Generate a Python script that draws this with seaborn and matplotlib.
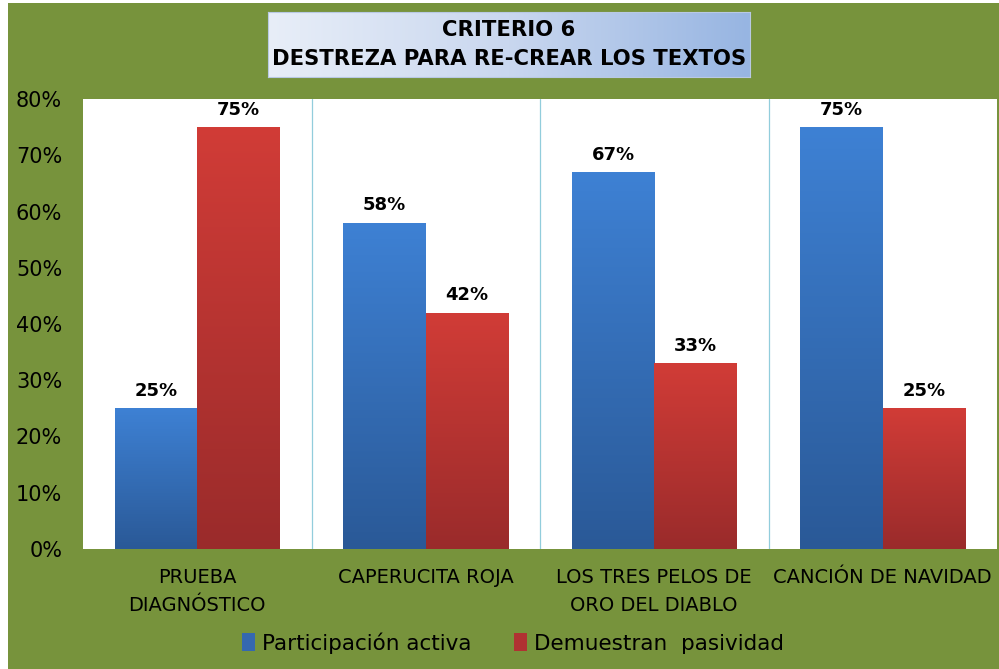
import numpy as np
import pandas as pd
import matplotlib
matplotlib.use('Agg')
import matplotlib.pyplot as plt
from matplotlib.patches import Rectangle
from matplotlib.colors import LinearSegmentedColormap
import seaborn as sns

# Chart data
categories = ["PRUEBA\nDIAGNÓSTICO", "CAPERUCITA ROJA", "LOS TRES PELOS DE\nORO DEL DIABLO", "CANCIÓN DE NAVIDAD"]
series = ["Participación activa", "Demuestran  pasividad"]
activa = [25, 58, 67, 75]
pasividad = [75, 42, 33, 25]
yticks = [0, 10, 20, 30, 40, 50, 60, 70, 80]

titleLines = "CRITERIO 6\nDESTREZA PARA RE-CREAR LOS TEXTOS"

# Build long table for seaborn
dataDF = pd.DataFrame({'Categoria': categories * 2,
                       'Serie': [series[0]] * len(categories) + [series[1]] * len(categories),
                       'Valor': activa + pasividad})

greenBg = '#77933C'
blueTop, blueBot = '#3E81D4', '#2A5997'
redTop, redBot = '#D13C37', '#9A2B2B'
palette = {series[0]: '#3A76C4', series[1]: '#C0393A'}

sns.set_style('white')
plt.rcParams['font.family'] = ['DejaVu Sans']
plt.rcParams['text.color'] = 'black'
plt.rcParams['xtick.color'] = 'black'
plt.rcParams['ytick.color'] = 'black'

fig = plt.figure(figsize=(9.99, 6.69), dpi=100)
fig.patch.set_facecolor('white')
# green background with thin white strip on left/top edge
fig.patches.append(Rectangle((8 / 999, 0), 1, 1 - 3 / 669, transform=fig.transFigure,
                             facecolor=greenBg, edgecolor='none', zorder=-10))

ax = fig.add_axes([83 / 999, 1 - 549 / 669, (997 - 83) / 999, (549 - 99) / 669])
ax.set_facecolor('white')

sns.barplot(data=dataDF, x='Categoria', y='Valor', hue='Serie', palette=palette,
            width=0.72, gap=0, saturation=1, ax=ax, legend=True)

# gradient fill on each bar
gradColors = [(blueTop, blueBot), (redTop, redBot)]
for cont, (cTop, cBot) in zip(ax.containers, gradColors):
    cmap = LinearSegmentedColormap.from_list('g', [cBot, cTop])
    for bar in cont:
        x0, y0 = bar.get_x(), bar.get_y()
        w, h = bar.get_width(), bar.get_height()
        grad = np.linspace(0, 1, 256).reshape(-1, 1)
        im = ax.imshow(grad, cmap=cmap, origin='lower', aspect='auto',
                       extent=[x0, x0 + w, y0, y0 + h], zorder=2)
        im.set_clip_path(bar)
    ax.bar_label(cont, fmt='%d%%', padding=6, fontsize=13, fontweight='bold',
                 family='DejaVu Sans', color='black')

ax.set_xlim(-0.5, len(categories) - 0.5)
ax.set_ylim(0, 80)
ax.set_yticks(yticks)
ax.set_yticklabels([f'{v}%' for v in yticks], fontsize=15)
ax.tick_params(axis='y', length=0, pad=15)
ax.set_xticks(range(len(categories)))
ax.set_xticklabels(categories, fontsize=14, linespacing=1.55)
ax.tick_params(axis='x', length=0, pad=14)
ax.set_xlabel('')
ax.set_ylabel('')

# light blue dividers between categories
for xv in np.arange(0.5, len(categories) - 0.5, 1):
    ax.axvline(xv, color='#92CDDC', linewidth=0.9, zorder=1)

for sp in ax.spines.values():
    sp.set_visible(False)

leg = ax.legend(loc='center', bbox_to_anchor=(513 / 999, 1 - 643 / 669),
                bbox_transform=fig.transFigure, ncol=2, frameon=False, fontsize=15.5,
                handlelength=0.6, handleheight=0.9, handletextpad=0.3, columnspacing=2.0)
for hnd, col in zip(leg.legend_handles, ['#3568B0', '#B03232']):
    hnd.set_facecolor(col)
    hnd.set_edgecolor('none')

# title box with gradient
titleAx = fig.add_axes([268 / 999, 1 - 77 / 669, (750 - 268) / 999, (77 - 12) / 669])
tcmap = LinearSegmentedColormap.from_list('t', ['#E8EEF8', '#C9D7EF', '#97B5E2'])
titleAx.imshow(np.linspace(0, 1, 256).reshape(1, -1), cmap=tcmap, aspect='auto',
               extent=[0, 1, 0, 1])
titleAx.set_xlim(0, 1)
titleAx.set_ylim(0, 1)
titleAx.set_xticks([])
titleAx.set_yticks([])
for sp in titleAx.spines.values():
    sp.set_color('#B9C9E4')
    sp.set_linewidth(0.8)
titleAx.text(0.5, 0.5, titleLines, ha='center', va='center', fontsize=15.2,
             fontweight='bold', linespacing=1.6, color='black')

plt.savefig('out.png', dpi=100, facecolor=fig.get_facecolor())
plt.close()
